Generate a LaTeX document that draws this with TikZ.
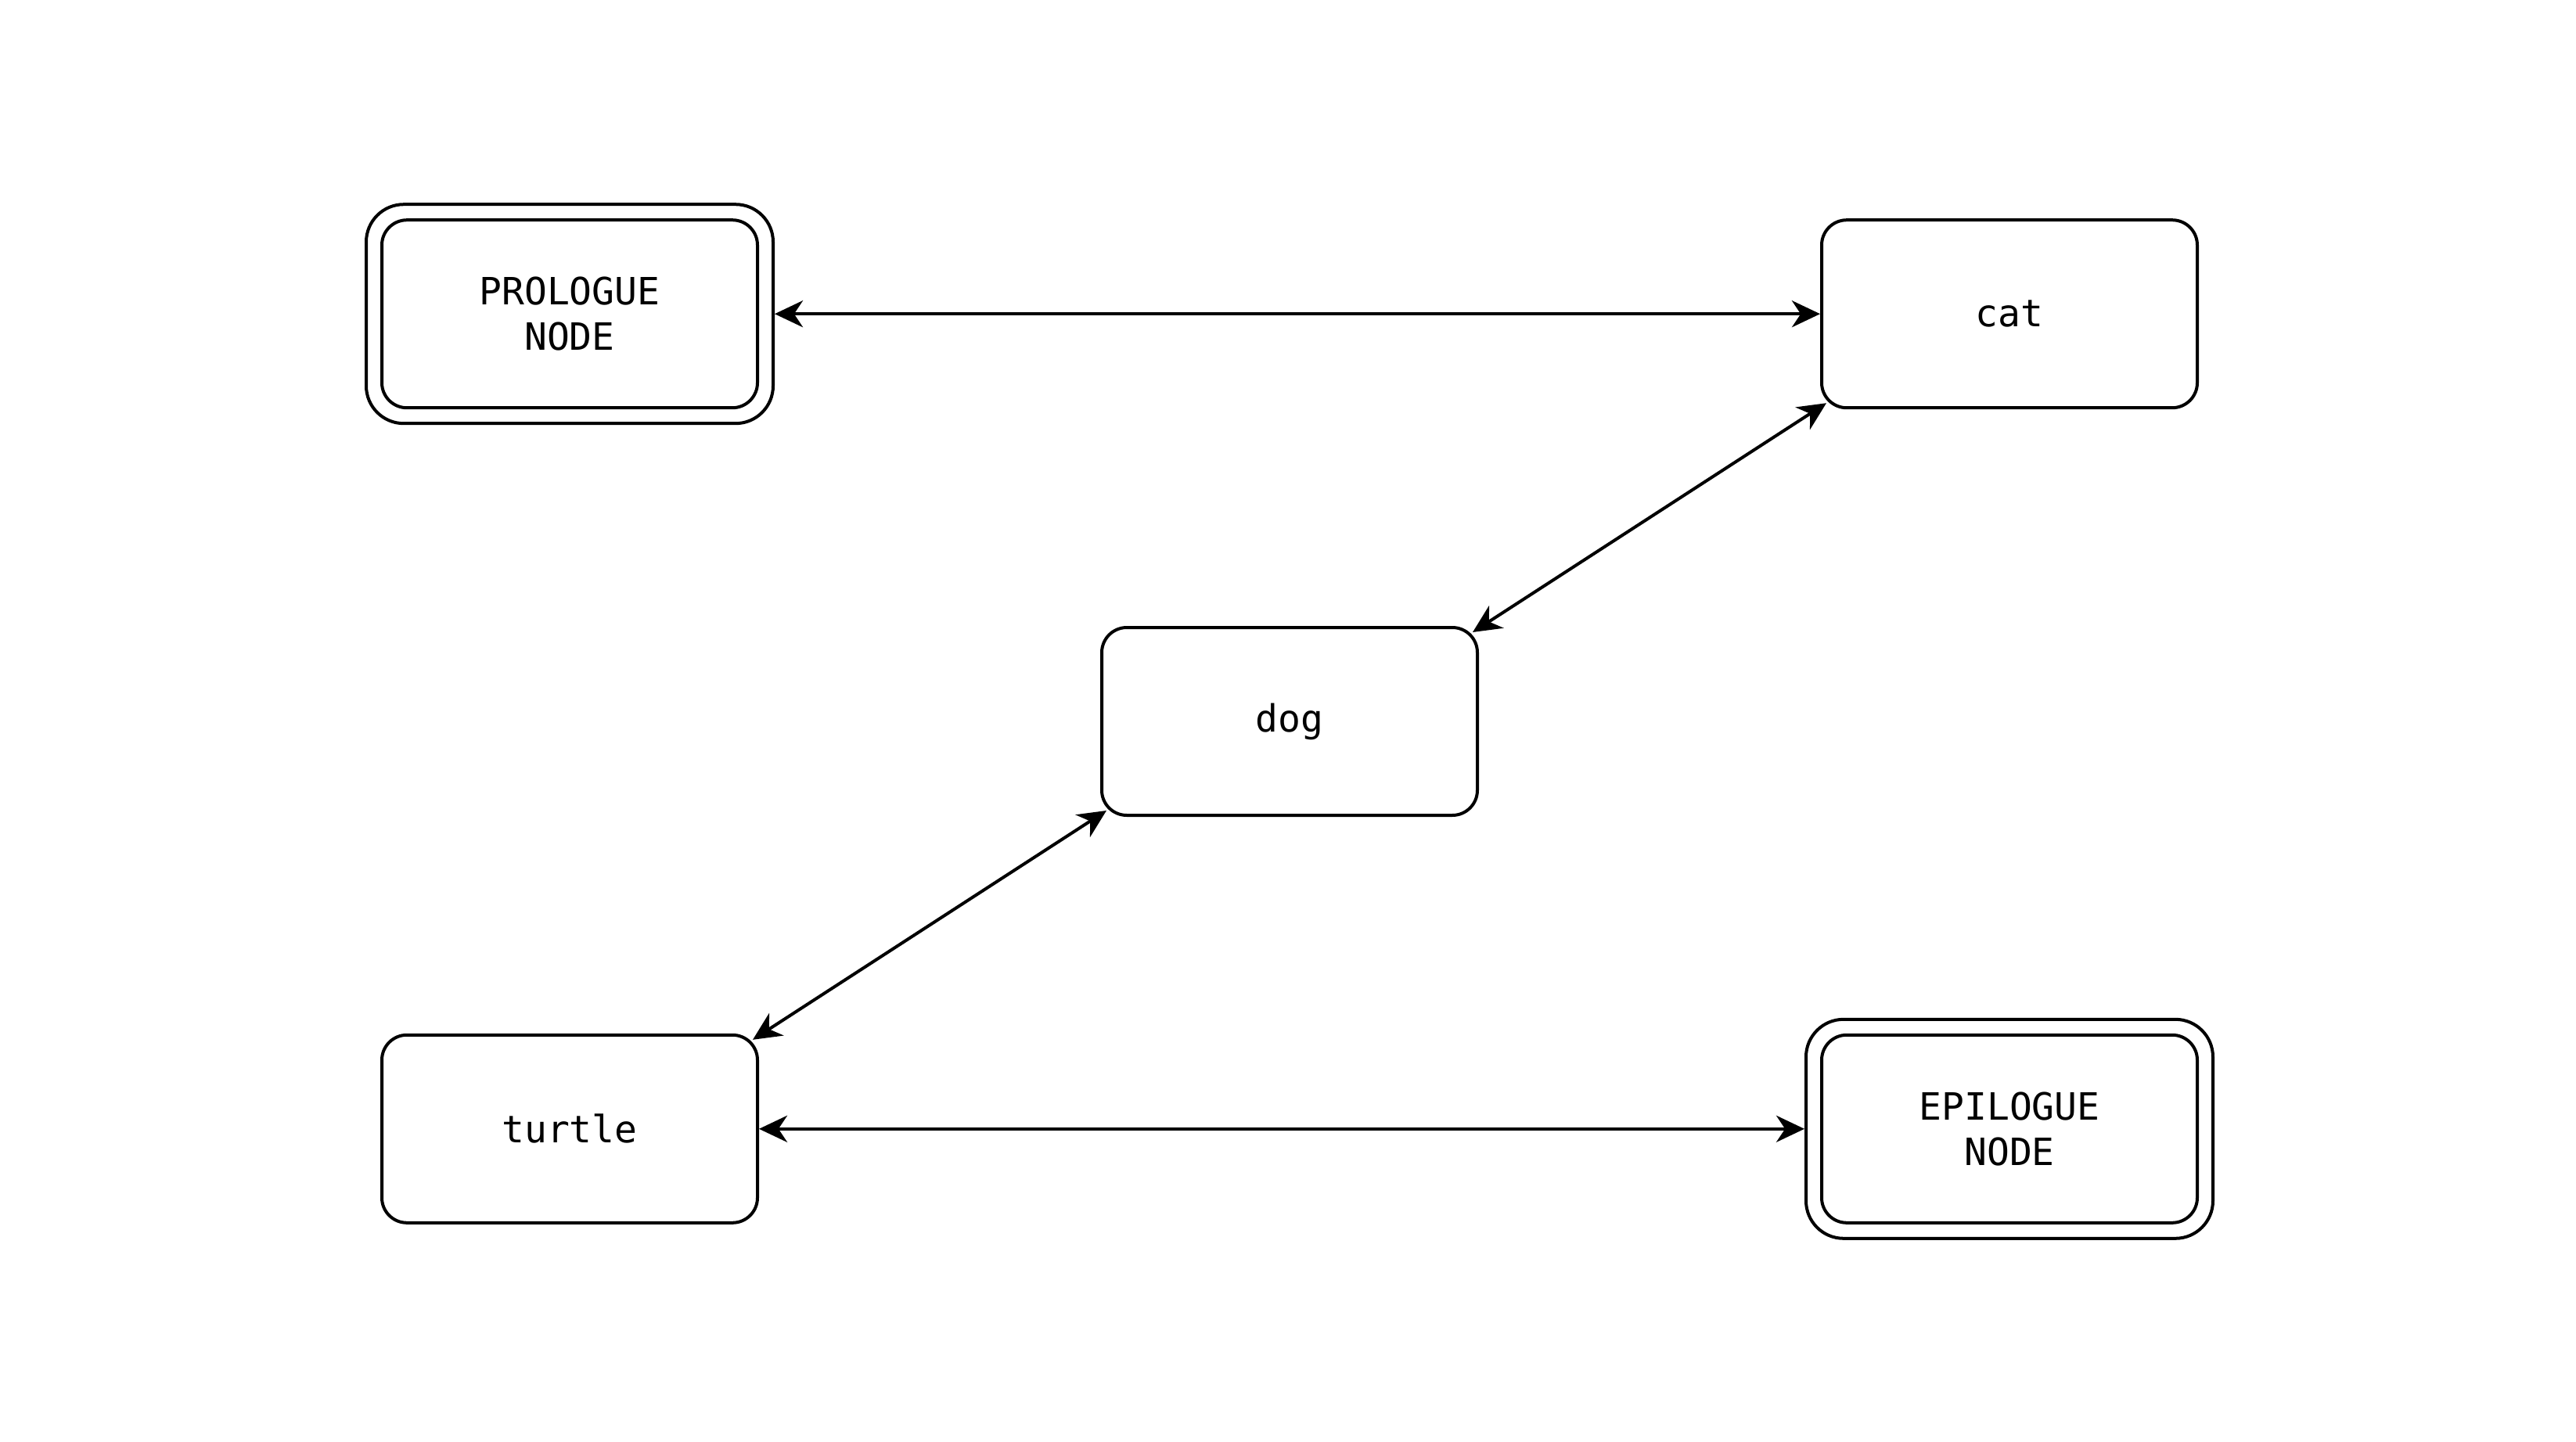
\documentclass[tikz,border=0pt]{standalone}
\usepackage{fontspec}
\setmonofont{DejaVu Sans Mono}
\usetikzlibrary{arrows.meta}

\begin{document}
\begin{tikzpicture}[>={Stealth[length=9pt,width=8.5pt,inset=2.8pt]}, x=1pt, y=1pt, line width=1pt,
	boite/.style={draw, rounded corners=8pt, minimum width=120pt, minimum height=60pt,
		inner sep=0pt, align=center, font=\ttfamily\fontsize{12}{14.4}\selectfont},
	cadre/.style={draw, rounded corners=12pt, minimum width=130pt, minimum height=70pt, inner sep=0pt}]
	\useasboundingbox (0,0) rectangle (823,-460.75);
	\node[boite] (P) at (182,-100.3) {PROLOGUE\\NODE};
	\node[cadre] (P2) at (182,-100.3) {};
	\node[boite] (C) at (642,-100.3) {cat};
	\node[boite] (D) at (412,-230.5) {dog};
	\node[boite] (T) at (182,-360.7) {turtle};
	\node[boite] (E) at (642,-360.7) {EPILOGUE\\NODE};
	\node[cadre] (E2) at (642,-360.7) {};
	
	\path (P2) edge[<->] (C);
	\path ([shift={(-2,-2)}]D.north east) edge[<->] ([shift={(2,2)}]C.south west);
	\path ([shift={(2,2)}]D.south west) edge[<->] ([shift={(-2,-2)}]T.north east);
	\path (T) edge[<->] (E2);
	
\end{tikzpicture}
\end{document}
